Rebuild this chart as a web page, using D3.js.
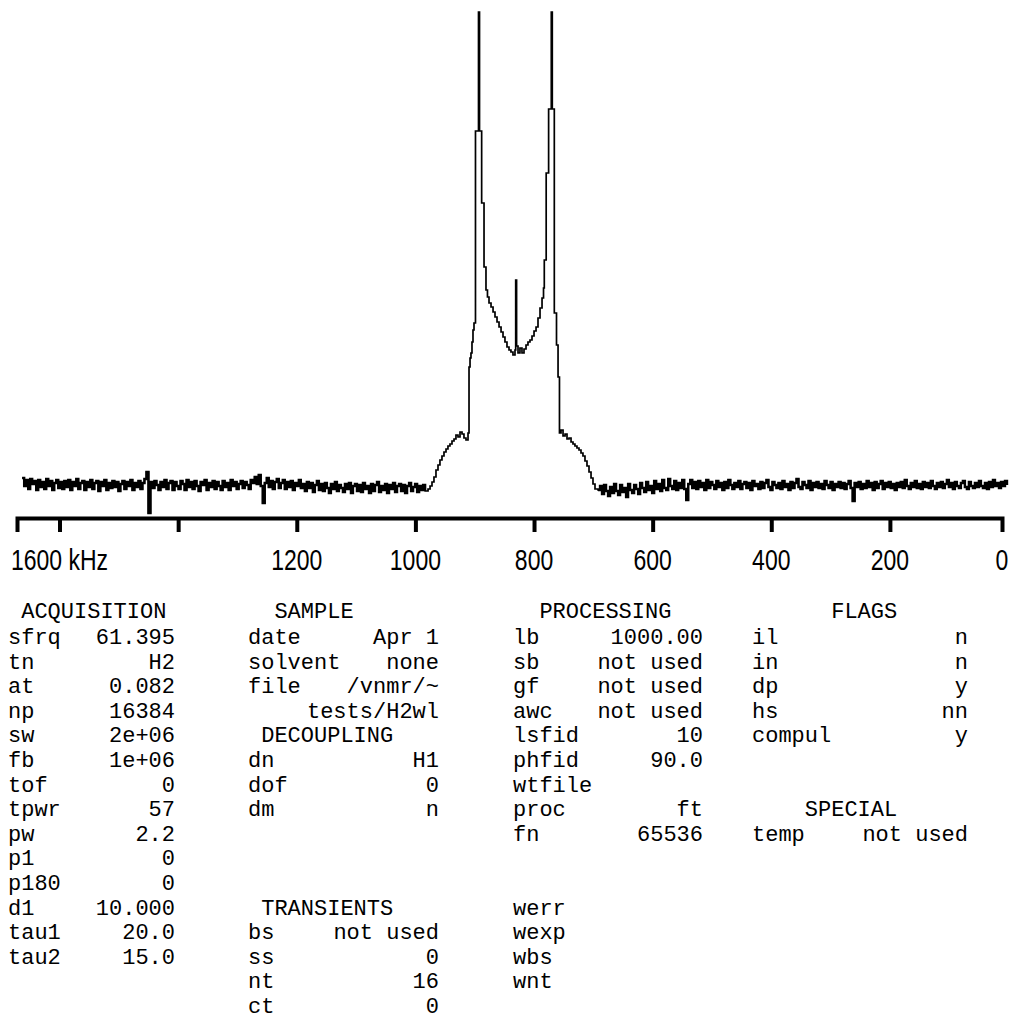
<!DOCTYPE html>
<html>
<head>
<meta charset="utf-8">
<script src="https://cdn.jsdelivr.net/npm/d3@7/dist/d3.min.js"></script>
<style>
  body { margin: 0; background: #fff; }
  svg { display: block; }
  .mono { font-family: "Courier New", Courier, "Liberation Mono", monospace; font-size: 22px; fill: #000; white-space: pre; }
  .eje text { font-family: Arial, "Liberation Sans", sans-serif; font-size: 23px; fill: #000; }
</style>
</head>
<body>
<div id="lacaja"></div>
<script>
// Espectro H2, intensidad en unidades arbitrarias

// linea base izquierda: un punto cada pasoRuido kHz desde inicioIzq
const inicioIzq = 1663;
const pasoRuido = 3.38;
const ruidoIzq = [
  9, 1, 7, -2, 8, 3, 6, -3, 7, 0,
  5, -2, 8, 1, 6, -3, 4, 7, -1, 5,
  -2, 6, 0, 7, -3, 5, 1, 8, -2, 4,
  6, -3, 5, 0, 7, -2, 4, 6, -4, 5,
  1, 7, -3, 4, -1, 6, 0, 5, -4, 3,
  6, -2, 5, 1, 7, -3, 4, 0, 6, -2,
  4, 8, 15, -26, 5, -1, 6, 2, -3, 5,
  0, 7, -2, 4, 6, -3, 5, 1, -2, 6,
  3, -3, 7, 0, 5, -2, 6, 1, -4, 5,
  2, 7, -3, 4, 0, 6, -2, 5, 1, -3,
  6, 0, 4, -3, 7, 1, 5, -2, 3, 6,
  -1, 5, 2, -2, 7, 4, 10, 3, 12, 1,
  -16, 4, 9, 0, 6, -2, 5, 8, -1, 4,
  7, -2, 5, 0, 6, -3, 4, 1, 7, -1,
  3, -4, 5, -1, 4, -5, 2, 6, -3, 3,
  -4, 4, -1, -6, 3, -2, 5, -4, 2, -1,
  -5, 3, -2, 4, -6, 1, 3, -4, 2, -5,
  4, -2, 1, -6, 3, -4, 2, 5, -5, 1,
  -3, 3, -6, 2, -2, 4, -5, 1, 3, -4,
  2, -6, 1, 4, -4, 0, 3, -5, 1, -3,
  2, -4
];

// zona central (doblete de Pake)
const centroKHz = [
  978.7, 975.3, 972.0, 968.7, 965.3, 961.9, 958.6, 955.2, 951.8, 948.4,
  945.1, 941.7, 938.3, 934.9, 931.6, 928.2, 924.8, 921.4, 918.1, 914.7,
  911.3, 909.6, 907.9, 906.3, 904.6, 902.9, 901.2, 898.7, 893.6, 891.9,
  888.3, 884.3, 881.0, 878.5, 875.9, 872.5, 869.1, 865.8, 862.4, 859.0,
  855.6, 852.3, 849.0, 845.6, 842.2, 838.9, 835.5, 832.1, 830.9, 829.4,
  827.0, 823.7, 820.3, 816.9, 813.5, 810.2, 806.8, 803.4, 800.0, 796.6,
  793.3, 789.9, 786.5, 784.0, 782.7, 779.5, 775.4, 770.9, 769.2, 765.8,
  762.1, 759.5, 757.1, 754.5, 751.1, 747.7, 744.4, 741.0, 737.6, 734.3,
  731.0, 727.6, 724.2, 720.8, 717.5, 714.1, 710.7, 707.3, 703.9, 700.6,
  697.2
];
const centroInt = [
  -2, 1, 5, 10, 17, 22, 27, 31, 35, 38,
  41, 43, 46, 48, 52, 50, 55, 53, 49, 47,
  54, 120, 129, 134, 145, 157, 164, 356, 475, 356,
  284, 220, 197, 190, 184, 180, 175, 170, 165, 160,
  155, 150, 145, 140, 137, 135, 132, 137, 207, 141,
  134, 139, 134, 138, 142, 145, 147, 151, 156, 160,
  169, 179, 189, 199, 227, 314, 378, 475, 378, 174,
  142, 110, 54, 57, 51, 53, 48, 49, 45, 43,
  41, 39, 37, 34, 31, 26, 21, 15, 9, 3,
  -2
];

// linea base derecha
const inicioDer = 692.1;
const ruidoDer = [
  -3, 1, -7, 2, -4, -9, 0, -6, 3, -4,
  -8, 2, -5, -1, -10, 3, -3, -6, 2, -2,
  -7, 4, -1, -5, 5, -3, 1, -6, 6, -2,
  3, -4, 7, -1, -3, 8, 1, -2, 6, -3,
  4, -1, 7, -2, -13, 3, 7, -1, 5, -2,
  6, 0, 4, -3, 7, -1, 5, 2, -2, 6,
  0, 4, -3, 5, -1, 7, 2, -2, 4, 0,
  6, -2, 3, 5, -1, 4, -3, 6, 1, 3,
  -2, 5, -1, 4, 7, 0, -3, 5, 2, -1,
  4, -2, 6, 0, 3, -3, 5, -1, 4, 8,
  0, -2, 5, 2, -1, 6, -3, 4, 0, 5,
  -1, 3, -2, 6, 2, -1, 5, -3, 3, 0,
  5, -1, 4, -2, 3, 6, -1, -14, 4, 0,
  5, -2, 3, -1, 6, 0, 4, -3, 5, -1,
  3, 6, -2, 4, 0, 5, -1, 3, -3, 4,
  0, 5, -1, 7, 1, -2, 4, 0, 6, -1,
  3, -2, 5, 0, 4, -1, 6, 1, -2, 4,
  0, 5, -1, 3, 7, 0, 4, -2, 5, 1,
  -1, 4, 6, 0, -2, 5, 1, -1, 4, 0,
  6, 1, -1, 4, -2, 5, 0, 7, 1, 4,
  -1, 5, 1, 6, 2
];

// eje en kHz
const limitesEje = [1671.7, 11];
const marcas = [1600, 1400, 1200, 1000, 800, 600, 400, 200];
const etiquetas = ["1600 kHz", "", "1200", "1000", "800", "600", "400", "200"];
const etiquetaFin = "0";

// tablas de parametros (null = renglon vacio, un solo texto = titulo)
const adquisicion = [
  [" ACQUISITION"], ["sfrq", "61.395"], ["tn", "H2"], ["at", "0.082"], ["np", "16384"],
  ["sw", "2e+06"], ["fb", "1e+06"], ["tof", "0"], ["tpwr", "57"], ["pw", "2.2"],
  ["p1", "0"], ["p180", "0"], ["d1", "10.000"], ["tau1", "20.0"], ["tau2", "15.0"]
];
const muestra = [
  ["  SAMPLE"], ["date", "Apr 1"], ["solvent", "none"], ["file", "/vnmr/~"], ["", "tests/H2wl"],
  [" DECOUPLING"], ["dn", "H1"], ["dof", "0"], ["dm", "n"], null, null, null,
  [" TRANSIENTS"], ["bs", "not used"], ["ss", "0"], ["nt", "16"], ["ct", "0"]
];
const procesado = [
  ["  PROCESSING"], ["lb", "1000.00"], ["sb", "not used"], ["gf", "not used"], ["awc", "not used"],
  ["lsfid", "10"], ["phfid", "90.0"], ["wtfile", ""], ["proc", "ft"], ["fn", "65536"],
  null, null, ["werr", ""], ["wexp", ""], ["wbs", ""], ["wnt", ""]
];
const banderas = [
  ["      FLAGS"], ["il", "n"], ["in", "n"], ["dp", "y"], ["hs", "nn"], ["compul", "y"],
  null, null, ["    SPECIAL"], ["temp", "not used"]
];

const ancho = 1013, alto = 1023;

const svg = d3.select("#lacaja")
  .append("svg")
    .attr("width", ancho)
    .attr("height", alto);

const x = d3.scaleLinear().domain(limitesEje).range([17, 1002]);
const y = d3.scaleLinear().domain([0, 475]).range([487, 12]);

// puntos del espectro
const ptsIzq = ruidoIzq.map((v, i) => [inicioIzq - i * pasoRuido, v]);
const ptsCentro = centroKHz.map((k, i) => [k, centroInt[i]]);
const ptsDer = ruidoDer.map((v, i) => [inicioDer - i * pasoRuido, v]);
const puntos = [].concat(ptsIzq, ptsCentro, ptsDer);

const linea = d3.line()
  .x(d => x(d[0]))
  .y(d => y(d[1]))
  .curve(d3.curveStepAfter);

svg.append("path")
  .datum(puntos)
  .attr("d", linea)
  .attr("fill", "none")
  .attr("stroke", "#000")
  .attr("stroke-width", 1.7);

// el ruido de la linea base se ve mas grueso en el original
svg.selectAll(".ruido")
  .data([ptsIzq, ptsDer])
  .enter().append("path")
    .attr("class", "ruido")
    .attr("d", linea)
    .attr("fill", "none")
    .attr("stroke", "#000")
    .attr("stroke-width", 2.4);

// eje horizontal
const eje = svg.append("g")
  .attr("class", "eje")
  .attr("transform", "translate(0,518)")
  .call(d3.axisBottom(x).tickValues(marcas).tickSize(14).tickSizeOuter(14).tickFormat(""));

eje.select(".domain").attr("stroke-width", 4);
eje.selectAll(".tick line").attr("stroke-width", 4);

eje.selectAll(".etiqueta")
  .data(marcas)
  .enter().append("text")
    .attr("class", "etiqueta")
    .attr("text-anchor", "middle")
    .attr("transform", d => `translate(${x(d)},52) scale(1,1.3)`)
    .text((d, i) => etiquetas[i]);

eje.append("text")
  .attr("text-anchor", "middle")
  .attr("transform", `translate(${x(limitesEje[1])},52) scale(1,1.3)`)
  .text(etiquetaFin);

// tablas de texto
const columnas = [
  { filas: adquisicion, izq: 8, der: 175 },
  { filas: muestra, izq: 248, der: 439 },
  { filas: procesado, izq: 513, der: 703 },
  { filas: banderas, izq: 752, der: 968 }
];

columnas.forEach(c => {
  c.filas.forEach((f, i) => {
    if (!f) return;
    // titulo arriba, renglones cada 24.6 px
    const yy = i === 0 ? 618 : 644 + (i - 1) * 24.6;
    if (f[0]) {
      svg.append("text").attr("class", "mono")
        .attr("x", c.izq).attr("y", yy).text(f[0]);
    }
    if (f.length > 1 && f[1]) {
      svg.append("text").attr("class", "mono")
        .attr("x", c.der).attr("y", yy)
        .attr("text-anchor", "end").text(f[1]);
    }
  });
});
</script>
</body>
</html>
